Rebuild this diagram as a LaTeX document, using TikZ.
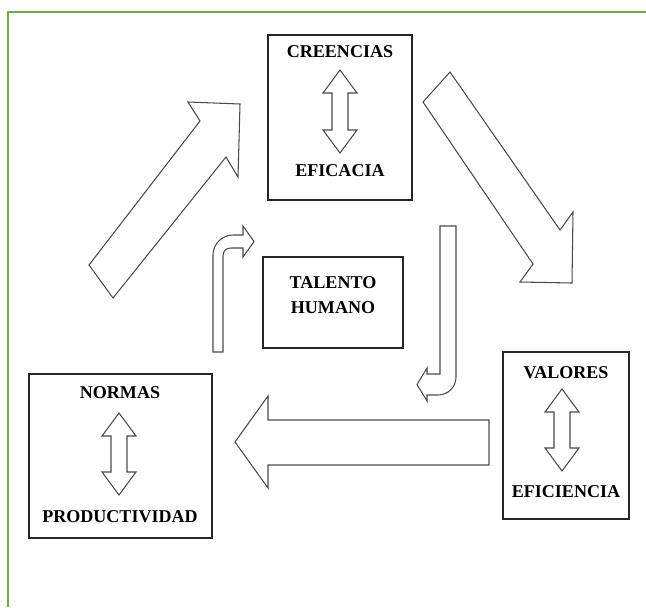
\documentclass[tikz,border=0pt]{standalone}
\usepackage{fontspec}
\setmainfont{Liberation Serif}
\usepackage{tikz}
\usetikzlibrary{arrows.meta,positioning}
\definecolor{Frame}{HTML}{70AD47}
\definecolor{Edge}{HTML}{4A4A4A}

\begin{document}
\begin{tikzpicture}[x=0.03cm,y=-0.03cm,font=\fontsize{15.4}{22}\selectfont\bfseries,
 box/.style={draw=black!85,line width=0.9pt},
 blockarrow/.style={draw=Edge,line width=0.9pt,fill=white,line join=miter},
 label/.style={inner sep=0pt,align=center}]
\useasboundingbox (0,0) rectangle (646,607);
\draw[Frame,line width=1.6pt] (646,12) -- (8,12) -- (8,607);
% boxes
\draw[box] (268,35) rectangle (412,200);
\draw[box] (263,257) rectangle (403,348);
\draw[box] (29,374) rectangle (212,538);
\draw[box] (503,352) rectangle (629,519);
\node[label] (creencias) at (340,52) {CREENCIAS};
\node[label] (eficacia) at (340,171) {EFICACIA};
\node[label] (talento) at (333,295) {TALENTO\\HUMANO};
\node[label] (normas) at (120,393) {NORMAS};
\node[label] (productividad) at (120,517) {PRODUCTIVIDAD};
\node[label] (valores) at (566,373) {VALORES};
\node[label] (eficiencia) at (566,492) {EFICIENCIA};
% double arrows inside the boxes
\foreach \x/\t/\b in {340/70/153,119/413/495,562/389/471}{
 \draw[blockarrow] (\x,\t) -- (\x+17,\t+23) -- (\x+8,\t+23) -- (\x+8,\b-23)
  -- (\x+17,\b-23) -- (\x,\b) -- (\x-17,\b-23) -- (\x-8,\b-23)
  -- (\x-8,\t+23) -- (\x-17,\t+23) -- cycle;
}
% big arrows
\draw[blockarrow] (89,265) -- (200,121) -- (188,102) -- (240,104) -- (238,177)
 -- (226,157) -- (113,298) -- cycle;
\draw[blockarrow] (450,72) -- (560,230) -- (573,212) -- (572,283) -- (520,282)
 -- (533,264) -- (423,102) -- cycle;
\draw[blockarrow] (489,420) -- (268,420) -- (268,396) -- (235,442) -- (268,488)
 -- (268,465) -- (489,465) -- cycle;
% bent arrows
\draw[blockarrow] (213,352) -- (213,255) .. controls (213,244) and (222,235) .. (233,235)
 -- (243,235) -- (243,226) -- (254,241.5) -- (243,257) -- (243,248) -- (231,248)
 .. controls (226,248) and (223,251) .. (223,256) -- (223,352) -- cycle;
\draw[blockarrow] (440,226) -- (456,226) -- (456,377) .. controls (456,387) and (448,395) .. (438,395)
 -- (427,395) -- (427,401) -- (417,384.5) -- (427,368) -- (427,374) -- (440,374) -- cycle;
\end{tikzpicture}
\end{document}
